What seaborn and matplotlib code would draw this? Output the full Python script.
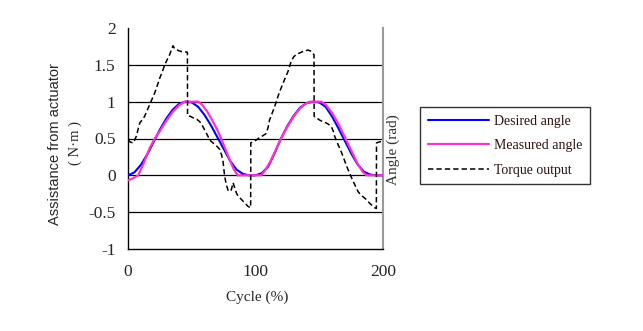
import numpy as np
import pandas as pd
import matplotlib
matplotlib.use("Agg")
import matplotlib.pyplot as plt
import seaborn as sns

# Data (cycle %, values)
desired_x = list(range(0, 205, 5))
desired_angle = [0.0, 0.04, 0.14, 0.28, 0.45, 0.62, 0.77, 0.89, 0.97, 1.0,
                 0.99, 0.93, 0.82, 0.68, 0.52, 0.36, 0.2, 0.08, 0.02, 0.0,
                 0.0, 0.03, 0.12, 0.3, 0.5, 0.67, 0.81, 0.92, 0.98, 1.0,
                 0.99, 0.93, 0.8, 0.64, 0.47, 0.3, 0.15, 0.05, 0.01, 0.0, 0.0]

measured_x = [0, 4, 8, 12, 17, 21, 25, 30, 35, 40, 44.5, 55, 58, 62, 66, 70,
              73, 77, 80, 83, 86, 104.6, 108, 112, 116, 120, 125, 130, 135,
              139, 142.5, 151.7, 155, 160, 165, 170, 175, 180, 184, 187, 200]
measured_angle = [-0.07, -0.04, 0.0, 0.15, 0.37, 0.5, 0.6, 0.74, 0.86, 0.95,
                  1.0, 1.0, 0.96, 0.87, 0.75, 0.62, 0.5, 0.33, 0.2, 0.08, 0.0,
                  0.0, 0.08, 0.2, 0.35, 0.5, 0.66, 0.8, 0.91, 0.97, 1.0, 1.0,
                  0.96, 0.85, 0.7, 0.52, 0.34, 0.16, 0.05, 0.0, 0.0]

torque_x = [0, 2, 3.9, 5, 6.5, 8, 9.2, 11, 13, 15, 17, 19, 21, 23, 24.9, 27,
            28.8, 31, 32.7, 34, 35.3, 36.5, 37.9, 40, 41.9, 44, 46.6, 46.7,
            49, 52.3, 54, 56.2, 58.8, 60, 61.5, 63, 64, 66, 68, 70, 72, 73.5,
            74.5, 75.8, 77, 78.4, 79.5, 81, 82.4, 83.7, 85, 86.3, 88, 90.2,
            92, 94, 96.2, 96.3, 98.5, 100.7, 103, 106, 108.5, 110, 111, 113,
            115, 117.6, 119.5, 121.6, 123.5, 125.5, 128, 130, 132, 134.5,
            137, 139, 141, 143, 145, 145.9, 146, 148, 150.3, 152.5, 155.6,
            157.5, 159.5, 161, 162.1, 164.7, 166.5, 168.6, 170.5, 172.5,
            174.5, 176.5, 178.5, 180.4, 182.3, 184.3, 187, 189.6, 191.5,
            193.5, 194.8, 194.9, 196.5, 198.7, 200]
torque = [0.48, 0.45, 0.44, 0.47, 0.53, 0.63, 0.71, 0.75, 0.80, 0.88, 0.96,
          1.04, 1.12, 1.22, 1.32, 1.41, 1.50, 1.58, 1.64, 1.70, 1.76, 1.72,
          1.71, 1.69, 1.68, 1.68, 1.67, 0.81, 0.80, 0.77, 0.76, 0.73, 0.66,
          0.62, 0.57, 0.52, 0.48, 0.45, 0.42, 0.39, 0.35, 0.27, 0.19, -0.01,
          -0.12, -0.20, -0.22, -0.20, -0.10, -0.17, -0.24, -0.28, -0.31,
          -0.35, -0.38, -0.42, -0.44, 0.44, 0.46, 0.48, 0.51, 0.54, 0.57,
          0.66, 0.75, 0.84, 0.93, 1.07, 1.16, 1.25, 1.33, 1.41, 1.55, 1.61,
          1.64, 1.66, 1.68, 1.69, 1.70, 1.69, 1.65, 1.64, 0.80, 0.78, 0.75,
          0.73, 0.71, 0.69, 0.66, 0.60, 0.53, 0.42, 0.35, 0.26, 0.17, 0.08,
          0.0, -0.08, -0.15, -0.22, -0.26, -0.29, -0.33, -0.38, -0.41, -0.44,
          -0.45, 0.44, 0.45, 0.46, 0.47]

x_ticks = [0, 100, 200]
y_ticks = [-1, -0.5, 0, 0.5, 1, 1.5, 2]
grid_vals = [-0.5, 0, 0.5, 1, 1.5]

df_des = pd.DataFrame({"x": desired_x, "y": desired_angle})
df_mea = pd.DataFrame({"x": measured_x, "y": measured_angle})
df_tor = pd.DataFrame({"x": torque_x, "y": torque})

sns.set_style("white")
plt.rcParams["font.family"] = ["Liberation Serif", "DejaVu Serif"]

fig = plt.figure(figsize=(6.43, 3.31), dpi=100)
ax = fig.add_axes([128 / 643, 1 - 249 / 331, 255 / 643, 221 / 331])

for g in grid_vals:
    ax.axhline(g, color="black", lw=0.9, zorder=1)

sns.lineplot(data=df_des, x="x", y="y", ax=ax, color="#0000ff", lw=1.5,
             sort=False, estimator=None, label="Desired angle", zorder=3)
sns.lineplot(data=df_mea, x="x", y="y", ax=ax, color="#ff33cc", lw=1.6,
             sort=False, estimator=None, label="Measured angle", zorder=4)
sns.lineplot(data=df_tor, x="x", y="y", ax=ax, color="black", lw=1.1,
             sort=False, estimator=None, label="Torque output", zorder=5,
             linestyle=(0, (3.5, 2)))

ax.set_xlim(0, 200)
ax.set_ylim(-1, 2)
ax.set_xticks(x_ticks)
ax.set_yticks(y_ticks)
ax.set_yticklabels(["-1", "-0.5", "0", "0.5", "1", "1.5", "2"])
ax.tick_params(axis="both", length=0, labelsize=12.5)
ax.tick_params(axis="y", pad=9)
ax.tick_params(axis="x", pad=11)
ax.set_xlabel("")
ax.set_ylabel("")

ax.spines["top"].set_visible(False)
ax.spines["left"].set_color("black")
ax.spines["left"].set_linewidth(1.0)
ax.spines["bottom"].set_color("black")
ax.spines["bottom"].set_linewidth(1.0)
ax.spines["right"].set_color("#999999")
ax.spines["right"].set_linewidth(1.5)

handles, labels = ax.get_legend_handles_labels()
ax.get_legend().remove()
leg = fig.legend(handles, labels, loc="upper left",
                 bbox_to_anchor=(420 / 643, 1 - 107 / 331),
                 bbox_transform=fig.transFigure, fontsize=10,
                 frameon=True, fancybox=False, edgecolor="black",
                 handlelength=4.4, handletextpad=0.36, labelspacing=0.83,
                 borderpad=0.55, borderaxespad=0)
leg.get_frame().set_linewidth(1.0)
for t in leg.get_texts():
    t.set_color("#301010")

fig.text(257 / 643, 1 - 297 / 331, "Cycle (%)", ha="center", va="center",
         fontsize=11)
fig.text(55 / 643, 1 - 144 / 331, "Assistance from actuator", rotation=90,
         ha="center", va="center", fontsize=10.5,
         family=["Liberation Sans", "DejaVu Sans"])
fig.text(75 / 643, 1 - 143 / 331, "( N\u00b7m )", rotation=90,
         ha="center", va="center", fontsize=10.5)
fig.text(393 / 643, 1 - 150 / 331, "Angle (rad)", rotation=90,
         ha="center", va="center", fontsize=11, color="#333333")

fig.savefig("out.png", dpi=100)
